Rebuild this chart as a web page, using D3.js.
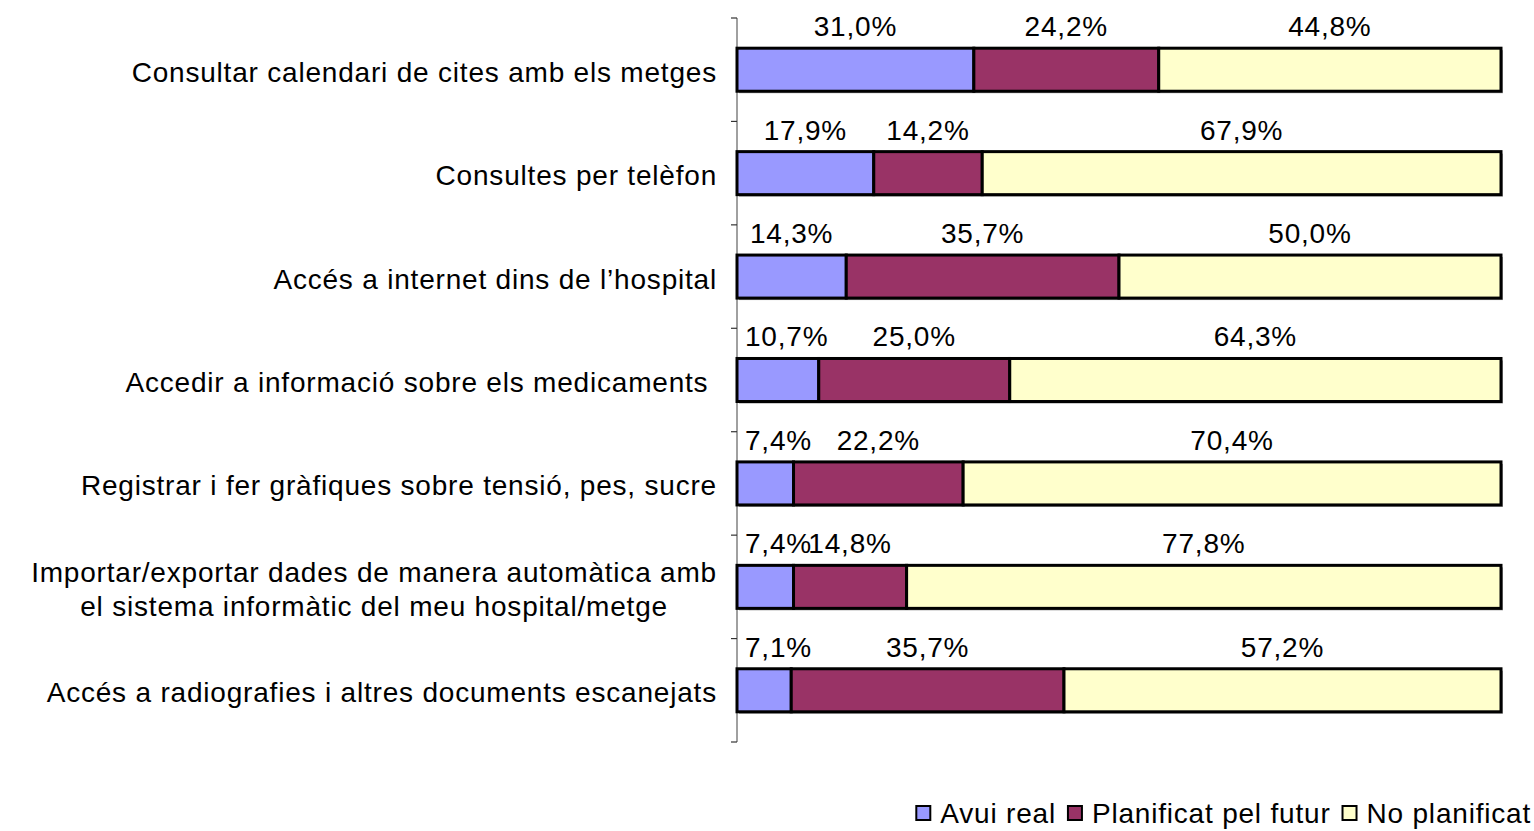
<!DOCTYPE html>
<html>
<head>
<meta charset="utf-8">
<script src="https://cdn.jsdelivr.net/npm/d3@7"></script>
<style>
  body { margin: 0; background: #fff; }
  svg text { font-family: "Liberation Sans", Arial, sans-serif; font-size: 28px; letter-spacing: 0.8px; fill: #000; }
</style>
</head>
<body>
<svg class="barchart" width="1534" height="831"></svg>
<script>
// categories (one inner array = one label, split in lines)
let categories = [
  ["Consultar calendari de cites amb els metges"],
  ["Consultes per telèfon"],
  ["Accés a internet dins de l’hospital"],
  ["Accedir a informació sobre els medicaments "],
  ["Registrar i fer gràfiques sobre tensió, pes, sucre"],
  ["Importar/exportar dades de manera automàtica amb", "el sistema informàtic del meu hospital/metge"],
  ["Accés a radiografies i altres documents escanejats"]
];
let seriesNames = ["Avui real", "Planificat pel futur", "No planificat"];
let avuiReal = [31.0, 17.9, 14.3, 10.7, 7.4, 7.4, 7.1];
let planificat = [24.2, 14.2, 35.7, 25.0, 22.2, 14.8, 35.7];
let noPlanificat = [44.8, 67.9, 50.0, 64.3, 70.4, 77.8, 57.2];
let colors = ["#9999ff", "#993366", "#ffffcc"];

let drawBarChart = function(){
  let svg = d3.select("body").select(".barchart");
  let margin = {top: 18, right: 33, bottom: 89, left: 737};
  let width = 1534, height = 831;

  let rows = categories.map((c, i) => ({id: i, label: c, values: [avuiReal[i], planificat[i], noPlanificat[i]]}));

  //scales
  let yScale = d3.scaleBand()
      .domain(rows.map(r => r.id))
      .range([margin.top, height - margin.bottom])
      .paddingInner(0.584)
      .paddingOuter(0.292);
  let xScale = d3.scaleLinear()
      .domain([0, 100])
      .range([margin.left, width - margin.right]);

  //axis: gray line with ticks at band edges
  let step = yScale.step();
  let tickPos = d3.range(categories.length + 1).map(k => margin.top + k * step);
  svg.append("line")
      .attr("x1", margin.left).attr("x2", margin.left)
      .attr("y1", margin.top).attr("y2", height - margin.bottom)
      .attr("stroke", "#808080").attr("stroke-width", 1.5);
  svg.selectAll(".tick").data(tickPos).enter().append("line")
      .attr("class", "tick")
      .attr("x1", margin.left - 6).attr("x2", margin.left)
      .attr("y1", d => d).attr("y2", d => d)
      .attr("stroke", "#333").attr("stroke-width", 1.2);

  //stacked segments
  let segs = [];
  rows.forEach(r => {
    let acc = 0;
    r.values.forEach((v, s) => {
      segs.push({row: r.id, s: s, x0: acc, x1: acc + v, v: v});
      acc += v;
    });
  });

  let plot = svg.append("g").attr("id", "plot");
  // shadow under each bar
  plot.selectAll(".shadow").data(rows).enter().append("rect")
      .attr("x", xScale(0) + 2)
      .attr("y", d => yScale(d.id) + 2)
      .attr("width", xScale(100) - xScale(0))
      .attr("height", yScale.bandwidth())
      .attr("fill", "#a0a0a0");
  plot.selectAll(".seg").data(segs).enter().append("rect")
      .attr("x", d => xScale(d.x0))
      .attr("y", d => yScale(d.row))
      .attr("width", d => xScale(d.x1) - xScale(d.x0))
      .attr("height", yScale.bandwidth())
      .attr("fill", d => colors[d.s])
      .attr("stroke", "#000")
      .attr("stroke-width", 3);

  //value labels above segments
  let fmt = v => v.toFixed(1).replace(".", ",") + "%";
  let vl = plot.selectAll(".vlabel").data(segs).enter().append("text")
      .attr("class", "vlabel")
      .attr("text-anchor", "middle")
      .attr("y", d => yScale(d.row) - 12)
      .text(d => fmt(d.v));
  vl.attr("x", function(d){
    let c = (xScale(d.x0) + xScale(d.x1)) / 2;
    let w = this.getComputedTextLength();
    return Math.max(c, margin.left + 8 + w / 2);
  });

  //category labels
  let lineH = 34;
  rows.forEach(r => {
    let cy = yScale(r.id) + yScale.bandwidth() / 2 + 2;
    let g = svg.append("g").attr("class", "cat");
    let texts = r.label.map((line, k) => g.append("text")
        .attr("xml:space", "preserve")
        .style("white-space", "pre")
        .attr("y", cy + 10 + (k - (r.label.length - 1) / 2) * lineH)
        .text(line));
    let widths = texts.map(t => t.node().getComputedTextLength());
    let maxW = d3.max(widths);
    let right = margin.left - 20;
    if (texts.length === 1) {
      texts[0].attr("text-anchor", "end").attr("x", right);
    } else {
      texts.forEach(t => t.attr("text-anchor", "middle").attr("x", right - maxW / 2));
    }
  });

  //legend, right aligned
  let legend = svg.append("g").attr("id", "legend");
  let box = 14, gapBox = 10, gapItem = 12;
  let items = seriesNames.map((n, i) => {
    let t = legend.append("text").attr("y", 823).text(n);
    return {t: t, w: t.node().getComputedTextLength(), i: i};
  });
  let x = 1531;
  for (let k = items.length - 1; k >= 0; k--) {
    let it = items[k];
    x -= it.w;
    it.t.attr("x", x);
    x -= gapBox + box;
    legend.append("rect")
        .attr("x", x).attr("y", 806)
        .attr("width", box).attr("height", box)
        .attr("fill", colors[it.i])
        .attr("stroke", "#000").attr("stroke-width", 2);
    x -= gapItem;
  }
};

drawBarChart();

function translate(x, y) {
  return 'translate(' + x + ',' + y + ')';
}
</script>
</body>
</html>
